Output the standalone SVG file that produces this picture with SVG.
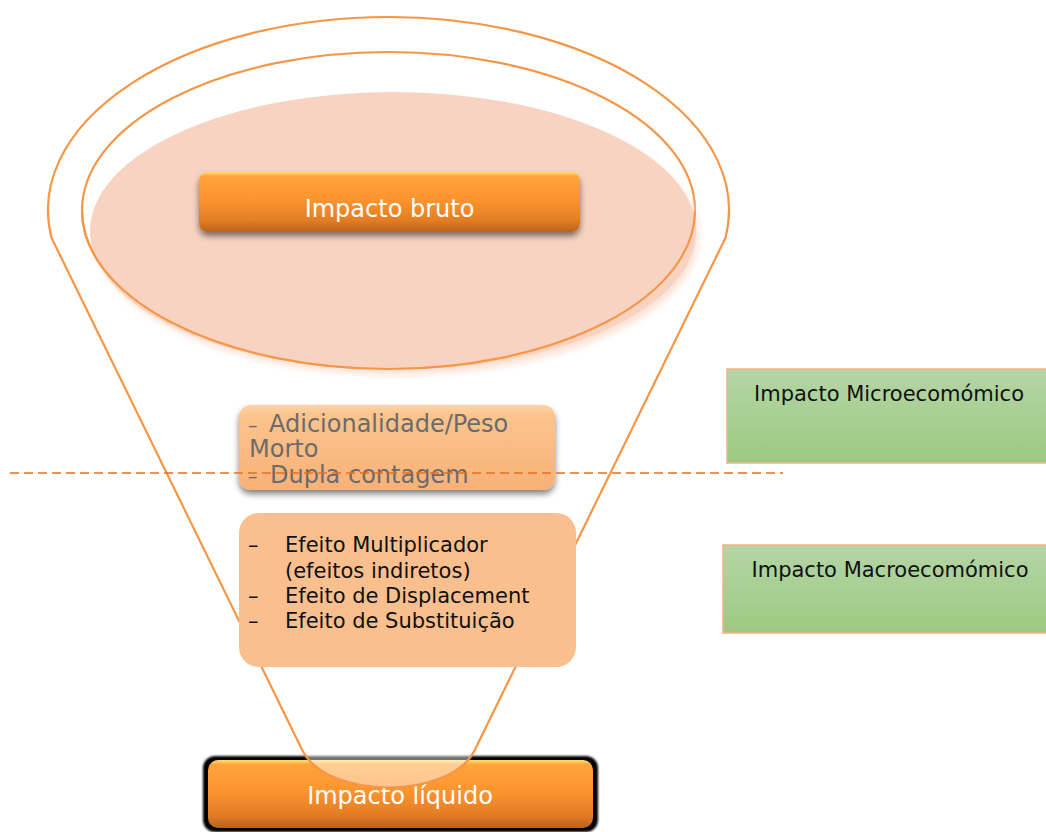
<svg xmlns="http://www.w3.org/2000/svg" width="1046" height="832" viewBox="0 0 1046 832">
  <defs>
    <style>
      .outline { fill: none; stroke: #F79646; stroke-width: 2.2; }
      .btn-text { font-family: "DejaVu Sans", Verdana, sans-serif; font-size: 24px; fill: #FFFFFF; text-anchor: middle; }
      .grey-text { font-family: "DejaVu Sans", Verdana, sans-serif; font-size: 24px; fill: #6B6B6B; }
      .body-text { font-family: "DejaVu Sans", Verdana, sans-serif; font-size: 21px; fill: #111111; }
      .green-text { font-family: "DejaVu Sans", Verdana, sans-serif; font-size: 21px; fill: #111111; text-anchor: middle; }
      .green-box { fill: url(#greenGrad); stroke: #F4B183; stroke-width: 1.5; }
      .divider { stroke: #E5701E; stroke-width: 1.5; stroke-dasharray: 9 5; fill: none; }
    </style>
    <linearGradient id="btnGrad" x1="0" y1="0" x2="0" y2="1">
      <stop offset="0" stop-color="#FFE070"/>
      <stop offset="0.07" stop-color="#FFA43A"/>
      <stop offset="0.45" stop-color="#FC942F"/>
      <stop offset="0.8" stop-color="#E47E26"/>
      <stop offset="1" stop-color="#B9621C"/>
    </linearGradient>
    <linearGradient id="peachGrad" x1="0" y1="0" x2="0" y2="1">
      <stop offset="0" stop-color="#FDD3A6"/>
      <stop offset="0.12" stop-color="#FCC48E"/>
      <stop offset="1" stop-color="#F8B177"/>
    </linearGradient>
    <linearGradient id="greenGrad" x1="0" y1="0" x2="0" y2="1">
      <stop offset="0" stop-color="#B5D5A5"/>
      <stop offset="1" stop-color="#9CCA82"/>
    </linearGradient>
    <filter id="dropShadow" x="-10%" y="-20%" width="120%" height="160%">
      <feGaussianBlur in="SourceAlpha" stdDeviation="3"/>
      <feOffset dx="0" dy="4" result="blur"/>
      <feComponentTransfer><feFuncA type="linear" slope="0.5"/></feComponentTransfer>
      <feMerge><feMergeNode/><feMergeNode in="SourceGraphic"/></feMerge>
    </filter>
    <filter id="softBlur" x="-10%" y="-10%" width="120%" height="120%">
      <feGaussianBlur stdDeviation="3"/>
    </filter>
    <filter id="darkRim" x="-10%" y="-20%" width="120%" height="140%">
      <feGaussianBlur stdDeviation="1.2"/>
    </filter>
  </defs>

  <rect width="1046" height="832" fill="#FFFFFF"/>

  <!-- net impact button at the funnel outlet -->
  <g id="impacto-liquido">
    <rect x="203" y="756" width="395" height="76" rx="12" fill="#000000" filter="url(#darkRim)"/>
    <rect x="208" y="760" width="385" height="68" rx="10" fill="url(#btnGrad)"/>
    <text class="btn-text" x="400" y="804">Impacto líquido</text>
  </g>

  <!-- funnel body: elliptical rim, tapering sides and rounded outlet -->
  <g id="funnel">
    <path d="M 51.6,238 A 340.5 193 0 1 1 725.4,238 L 474.8,750 C 450.3,800 326.7,800 302.2,750 Z"
          fill="#FFFFFF" fill-opacity="0.45" stroke="#F79646" stroke-width="2.2" stroke-linejoin="round"/>
    <ellipse class="outline" cx="388.5" cy="210.5" rx="306.5" ry="158.5"/>
    <ellipse cx="397" cy="236" rx="302" ry="139" fill="#FBE3D6" filter="url(#softBlur)"/>
    <ellipse cx="393" cy="231" rx="303" ry="139" fill="#F8D3C1"/>
    <path d="M 82,210.5 A 306.5 158.5 0 0 0 695,210.5" class="outline"/>
  </g>

  <!-- gross impact button -->
  <g id="impacto-bruto">
    <rect x="199" y="172" width="381" height="60" rx="9" fill="url(#btnGrad)" filter="url(#dropShadow)"/>
    <text class="btn-text" x="389.5" y="217">Impacto bruto</text>
  </g>

  <!-- microeconomic adjustments -->
  <g id="ajustes-micro">
    <rect x="239" y="405" width="316" height="85" rx="12" fill="url(#peachGrad)" filter="url(#dropShadow)"/>
    <text class="grey-text" x="248" y="432"><tspan font-size="19">–</tspan><tspan x="269">Adicionalidade/Peso</tspan></text>
    <text class="grey-text" x="249" y="457">Morto</text>
    <text class="grey-text" x="248" y="483"><tspan font-size="19">–</tspan><tspan x="270">Dupla contagem</tspan></text>
  </g>

  <!-- macroeconomic adjustments -->
  <g id="ajustes-macro">
    <rect x="239" y="513" width="337" height="154" rx="20" fill="#F9BF8E"/>
    <text class="body-text" x="248" y="552">–</text>
    <text class="body-text" x="285" y="552">Efeito Multiplicador</text>
    <text class="body-text" x="285" y="578">(efeitos indiretos)</text>
    <text class="body-text" x="248" y="603">–</text>
    <text class="body-text" x="285" y="603">Efeito de Displacement</text>
    <text class="body-text" x="248" y="628">–</text>
    <text class="body-text" x="285" y="628">Efeito de Substituição</text>
  </g>

  <!-- divider between micro and macro levels -->
  <g id="connectors">
    <line class="divider" x1="10" y1="473" x2="783" y2="473"/>
  </g>

  <!-- level labels -->
  <g id="impacto-micro">
    <rect class="green-box" x="727" y="369" width="330" height="94"/>
    <text class="green-text" x="889" y="401">Impacto Microecomómico</text>
  </g>
  <g id="impacto-macro">
    <rect class="green-box" x="723" y="545" width="334" height="88"/>
    <text class="green-text" x="890" y="577">Impacto Macroecomómico</text>
  </g>
</svg>
